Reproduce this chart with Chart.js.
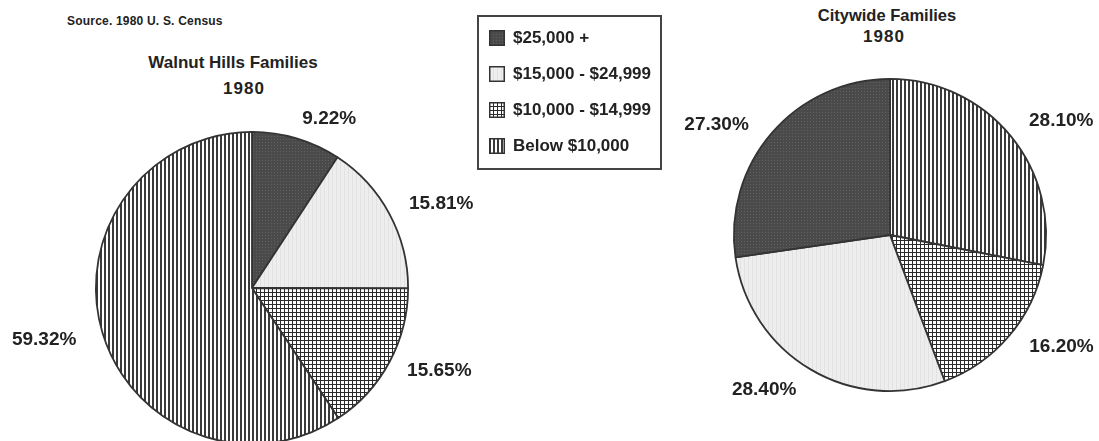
<!DOCTYPE html>
<html>
<head>
<meta charset="utf-8">
<script src="https://cdn.jsdelivr.net/npm/chart.js@4.4.1/dist/chart.umd.min.js"></script>
<style>
  html, body { margin: 0; padding: 0; background: #fff; }
  body { width: 1099px; height: 441px; overflow: hidden; position: relative;
         font-family: "Liberation Sans", Arial, sans-serif; color: #222; }
  canvas.pie { position: absolute; top: 0; }
  .txt { position: absolute; font-weight: bold; white-space: nowrap; text-align: center; }
  #source { left: 67px; top: 14px; font-size: 12px; text-align: left; letter-spacing: 0.2px; }
  #legend { position: absolute; left: 477px; top: 15px; width: 181px; height: 148px;
            border: 2px solid #444; padding-top: 3px; box-sizing: content-box; }
  #legend .row { display: flex; align-items: center; height: 36px; padding-left: 10px;
                 font-weight: bold; font-size: 17px; }
  #legend canvas { margin-right: 8px; }
</style>
</head>
<body>
<div id="source" class="txt">Source.  1980 U. S. Census</div>

<div class="txt" style="left:128px; width:210px; top:53px; font-size:17px;">Walnut Hills Families</div>
<div class="txt" style="left:204px; width:80px; top:79px; font-size:17px; letter-spacing:1px;">1980</div>

<div class="txt" style="left:787px; width:200px; top:6px; font-size:16.5px;">Citywide Families</div>
<div class="txt" style="left:844px; width:80px; top:27px; font-size:17px; letter-spacing:1px;">1980</div>

<div id="legend"></div>

<canvas id="walnutChart" class="pie" width="540" height="460" style="left:0"></canvas>
<canvas id="cityChart" class="pie" width="479" height="441" style="left:620px"></canvas>

<script>
// income brackets, same order as the legend
const categories = ['$25,000 +', '$15,000 - $24,999', '$10,000 - $14,999', 'Below $10,000'];
// percent of families per bracket, 1980
const walnutHills = [9.22, 15.81, 15.65, 59.32];
const citywide = [27.30, 28.40, 16.20, 28.10];

// small tiles for the old black & white fills
function makePattern(size, paint) {
  const c = document.createElement('canvas');
  c.width = c.height = size;
  const g = c.getContext('2d');
  paint(g, size);
  return g.createPattern(c, 'repeat');
}

const probe = document.createElement('canvas').getContext('2d');
function patterns(ctx) {
  return [
    // dark, fine dotted
    makePattern(3, (g) => { g.fillStyle = '#4a4a4a'; g.fillRect(0, 0, 3, 3); g.fillStyle = '#606060'; g.fillRect(1, 1, 1, 1); }),
    // light grey
    makePattern(4, (g) => { g.fillStyle = '#eeeeee'; g.fillRect(0, 0, 4, 4); g.fillStyle = '#e2e2e2'; g.fillRect(0, 0, 1, 4); }),
    // cross hatch grid
    makePattern(4, (g) => { g.fillStyle = '#fff'; g.fillRect(0, 0, 4, 4); g.fillStyle = '#2a2a2a'; g.fillRect(0, 0, 4, 1); g.fillRect(0, 0, 1, 4); }),
    // vertical stripes
    makePattern(4, (g) => { g.fillStyle = '#fff'; g.fillRect(0, 0, 4, 4); g.fillStyle = '#3a3a3a'; g.fillRect(0, 0, 2, 4); })
  ];
}
const FILLS = patterns(probe);

// percent labels outside each slice
const pctLabels = {
  id: 'pctLabels',
  afterDatasetsDraw(chart, args, opts) {
    const ctx = chart.ctx;
    const meta = chart.getDatasetMeta(0);
    const data = chart.data.datasets[0].data;
    ctx.save();
    ctx.font = opts.font;
    ctx.fillStyle = opts.color;
    ctx.textBaseline = 'middle';
    meta.data.forEach((arc, i) => {
      const p = arc.getProps(['x', 'y', 'startAngle', 'endAngle', 'outerRadius'], true);
      const mid = (p.startAngle + p.endAngle) / 2;
      const r = p.outerRadius + opts.gap;
      const cos = Math.cos(mid), sin = Math.sin(mid);
      const n = (opts.nudge && opts.nudge[i]) || [0, 0];
      ctx.textAlign = cos >= 0 ? 'left' : 'right';
      ctx.fillText(data[i].toFixed(2) + '%', p.x + cos * r + n[0], p.y + sin * r + n[1]);
    });
    ctx.restore();
  }
};

function initPie(canvasId, labels, values, fills, padding, nudge) {
  return new Chart(document.getElementById(canvasId), {
    type: 'pie',
    data: {
      labels: labels,
      datasets: [{ data: values, backgroundColor: fills, borderColor: '#333', borderWidth: 1.8 }]
    },
    options: {
      responsive: false,
      animation: false,
      layout: { padding: padding },
      plugins: {
        legend: { display: false },
        tooltip: { enabled: false },
        pctLabels: { font: 'bold 19px "Liberation Sans", Arial, sans-serif', color: '#222', gap: 20, nudge: nudge }
      }
    },
    plugins: [pctLabels]
  });
}

// Walnut Hills: clockwise from 12 o'clock in legend order
initPie('walnutChart', categories, walnutHills, FILLS,
  { left: 95, right: 131, top: 131, bottom: 15 },
  [[0, 0], [2, -1], [0, -1], [-7, 1]]);

// Citywide: clockwise from 12 o'clock in reverse legend order
initPie('cityChart', categories.slice().reverse(), citywide.slice().reverse(), FILLS.slice().reverse(),
  { left: 113, right: 52, top: 78, bottom: 49 },
  [[3, -2], [5, -2], [-4, 3], [-8, 5]]);

// legend box
const legend = document.getElementById('legend');
categories.forEach((name, i) => {
  const row = document.createElement('div');
  row.className = 'row';
  const sw = document.createElement('canvas');
  sw.width = sw.height = 16;
  const g = sw.getContext('2d');
  g.fillStyle = FILLS[i];
  g.fillRect(0, 0, 16, 16);
  g.strokeStyle = '#333';
  g.lineWidth = 1.5;
  g.strokeRect(0.75, 0.75, 14.5, 14.5);
  const span = document.createElement('span');
  span.textContent = name;
  row.appendChild(sw);
  row.appendChild(span);
  legend.appendChild(row);
});
</script>
</body>
</html>
